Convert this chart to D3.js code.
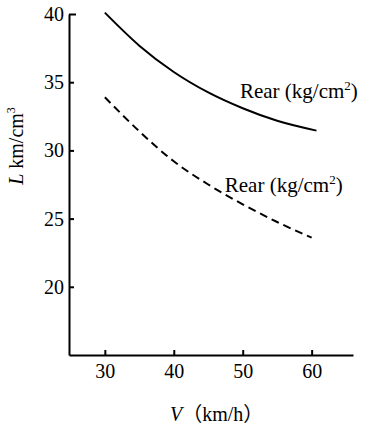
<!DOCTYPE html>
<html>
<head>
 <meta charset="UTF-8">
 <title>L - V</title>
 <script src="https://d3js.org/d3.v7.min.js"></script>
 <style>
  body { margin: 0; background: #fff; }
  text { font-family: "Liberation Serif", "Noto Sans CJK JP", serif; fill: #000; }
 </style>
</head>
<body>
	<script type="text/javascript">
		// valores
		var speedsSolid = [30, 35, 40, 45, 50, 55, 60.7];
		var solidL = [40.1, 37.68, 35.75, 34.25, 33.09, 32.17, 31.45];
		var speedsDashed = [30, 35, 40, 45, 50, 55, 60];
		var dashedL = [33.9, 31.4, 29.2, 27.5, 26.05, 24.75, 23.6];
		var xTicks = [30, 40, 50, 60];
		var yTicks = [20, 25, 30, 35, 40];
		var labelV = [49.6, 47.4];
		var labelL = [33.85, 26.95];

		var width = 365;
		var height = 427;

		var svg = d3.select('body').append('svg')
			.attr('width', width)
			.attr('height', height);

		var x = d3.scaleLinear().domain([24.8, 66]).range([69, 353]);
		var y = d3.scaleLinear().domain([15, 40]).range([355, 14]);

		var xAxis = svg.append('g')
			.attr('transform', 'translate(0,' + y(15) + ')')
			.call(d3.axisBottom(x).tickValues(xTicks).tickSizeInner(-5).tickSizeOuter(0).tickPadding(9));
		var yAxis = svg.append('g')
			.attr('transform', 'translate(' + x(24.8) + ',0)')
			.call(d3.axisLeft(y).tickValues(yTicks).tickSizeInner(-5).tickSizeOuter(0).tickPadding(5));

		[xAxis, yAxis].forEach(function (a) {
			a.select('.domain').attr('stroke', '#000').attr('stroke-width', 2);
			a.selectAll('.tick line').attr('stroke', '#000').attr('stroke-width', 2);
			a.selectAll('.tick text').attr('font-size', 20).attr('font-family', '"Liberation Serif", serif').attr('fill', '#000');
		});
		// la marca de 40 es un poco mas larga
		yAxis.selectAll('.tick line').filter(function (d) { return d == 40; }).attr('x2', 7);

		function makeLine(vs) {
			return d3.line()
				.x(function (d, i) { return x(vs[i]); })
				.y(function (d) { return y(d); })
				.curve(d3.curveMonotoneX);
		}

		svg.append('path').datum(solidL)
			.attr('d', makeLine(speedsSolid))
			.attr('fill', 'none')
			.attr('stroke', '#000')
			.attr('stroke-width', 2);

		svg.append('path').datum(dashedL)
			.attr('d', makeLine(speedsDashed))
			.attr('fill', 'none')
			.attr('stroke', '#000')
			.attr('stroke-width', 2)
			.attr('stroke-dasharray', '8,5');

		for (var i = 0; i < labelV.length; i++) {
			var t = svg.append('text')
				.attr('x', x(labelV[i]))
				.attr('y', y(labelL[i]))
				.attr('font-size', 21);
			t.append('tspan').text('Rear (kg/cm');
			t.append('tspan').attr('font-size', 13).attr('dy', -8).text('2');
			t.append('tspan').attr('dy', 8).text(')');
		}

		var yt = svg.append('text')
			.attr('transform', 'translate(23,146) rotate(-90)')
			.attr('text-anchor', 'middle')
			.attr('font-size', 20);
		yt.append('tspan').attr('font-style', 'italic').text('L');
		yt.append('tspan').text(' km/cm');
		yt.append('tspan').attr('font-size', 12).attr('dy', -8).text('3');

		var xt = svg.append('text')
			.attr('x', 170)
			.attr('y', 421)
			.attr('font-size', 20);
		xt.append('tspan').attr('font-style', 'italic').text('V');
		xt.append('tspan').text('（km/h）');
	</script>
</body>
</html>
